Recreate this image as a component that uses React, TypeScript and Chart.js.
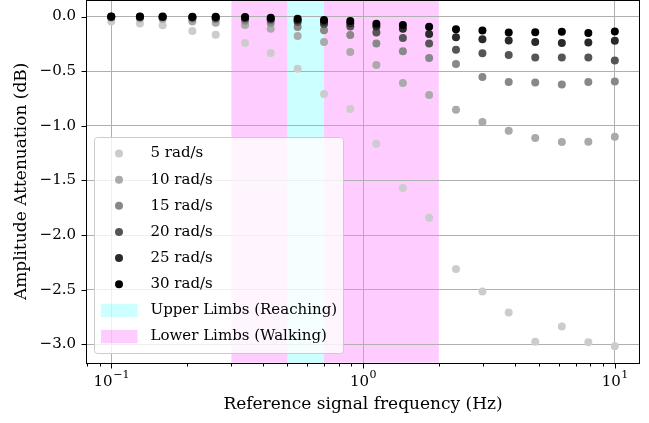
import React, { useEffect, useRef } from 'react';
import { Chart, registerables } from 'chart.js';

Chart.register(...registerables);

// ---- data ----
const FREQS = [0.1, 0.13, 0.16, 0.21, 0.26, 0.34, 0.43, 0.55, 0.7, 0.89, 1.13, 1.44, 1.83, 2.34, 2.98, 3.79, 4.83, 6.16, 7.85, 10];

const SERIES_LABELS = ['5 rad/s', '10 rad/s', '15 rad/s', '20 rad/s', '25 rad/s', '30 rad/s'];
const ATT_5 = [-0.045, -0.065, -0.08, -0.132, -0.166, -0.243, -0.334, -0.478, -0.71, -0.847, -1.164, -1.569, -1.84, -2.309, -2.516, -2.708, -2.976, -2.836, -2.98, -3.016];
const ATT_10 = [-0.012, -0.018, -0.022, -0.045, -0.057, -0.078, -0.113, -0.178, -0.234, -0.324, -0.443, -0.609, -0.719, -0.853, -0.966, -1.045, -1.112, -1.148, -1.145, -1.1];
const ATT_15 = [-0.006, -0.008, -0.01, -0.02, -0.025, -0.038, -0.058, -0.095, -0.125, -0.17, -0.247, -0.318, -0.379, -0.435, -0.554, -0.6, -0.603, -0.621, -0.6, -0.594];
const ATT_20 = [-0.003, -0.004, -0.005, -0.01, -0.013, -0.018, -0.03, -0.05, -0.07, -0.091, -0.146, -0.196, -0.246, -0.304, -0.335, -0.353, -0.374, -0.374, -0.374, -0.402];
const ATT_25 = [-0.002, -0.003, -0.004, -0.007, -0.009, -0.012, -0.02, -0.034, -0.05, -0.064, -0.092, -0.112, -0.161, -0.189, -0.207, -0.219, -0.234, -0.243, -0.237, -0.222];
const ATT_30 = [0.0, -0.001, -0.001, -0.002, -0.003, -0.004, -0.012, -0.021, -0.032, -0.04, -0.066, -0.078, -0.093, -0.116, -0.128, -0.146, -0.143, -0.14, -0.152, -0.137];
const SERIES_VALUES = [ATT_5, ATT_10, ATT_15, ATT_20, ATT_25, ATT_30];
const SERIES_COLORS = ['#cccccc', '#aaaaaa', '#888888', '#555555', '#2a2a2a', '#000000'];

const REACH_BAND = [0.5, 0.7];
const WALK_BAND = [0.3, 2];
const BAND_LABELS = ['Upper Limbs (Reaching)', 'Lower Limbs (Walking)'];
const BAND_COLORS = ['#ccffff', 'rgba(255,0,255,0.2)'];

const Y_TICKS = [0, -0.5, -1, -1.5, -2, -2.5, -3];
const X_MAJOR = [0.1, 1, 10];
const X_EXPONENTS = ['\u22121', '0', '1'];
const X_MINOR = [0.08, 0.09, 0.2, 0.3, 0.4, 0.5, 0.6, 0.7, 0.8, 0.9, 2, 3, 4, 5, 6, 7, 8, 9];
const X_RANGE = [0.0794, 12.59];
const Y_RANGE = [-3.167, 0.151];

const X_TITLE = 'Reference signal frequency (Hz)';
const Y_TITLE = 'Amplitude Attenuation (dB)';

// ---- style ----
const FAMILY = "'DejaVu Serif', serif";
const FONT_SIZE = 15;
const TITLE_SIZE = 17;

const fmtY = (v: number) => (v === 0 ? '0.0' : '\u2212' + Math.abs(v).toFixed(1));

const decor = {
  id: 'decor',
  beforeDraw(chart: any) {
    const { ctx, chartArea: a, scales } = chart;
    const x = scales.x;
    ctx.save();
    const band = (r: number[], color: string) => {
      const x0 = x.getPixelForValue(r[0]);
      const x1 = x.getPixelForValue(r[1]);
      ctx.fillStyle = color;
      ctx.fillRect(x0, a.top, x1 - x0, a.bottom - a.top);
    };
    band(WALK_BAND, BAND_COLORS[1]);
    band(REACH_BAND, BAND_COLORS[0]);
    ctx.restore();
  },
  afterDatasetsDraw(chart: any) {
    const { ctx, chartArea: a, scales } = chart;
    const x = scales.x;
    const y = scales.y;
    ctx.save();
    ctx.strokeStyle = '#000';
    ctx.lineWidth = 1;
    const L = Math.round(a.left) + 0.5;
    const R = Math.round(a.right) - 0.5;
    const T = Math.round(a.top) + 0.5;
    const B = Math.round(a.bottom) + 0.5;
    ctx.strokeRect(L, T, R - L, B - T);
    ctx.beginPath();
    Y_TICKS.forEach((v) => {
      const py = Math.round(y.getPixelForValue(v)) + 0.5;
      ctx.moveTo(L - 5, py);
      ctx.lineTo(L, py);
    });
    X_MAJOR.forEach((v) => {
      const px = Math.round(x.getPixelForValue(v)) + 0.5;
      ctx.moveTo(px, B);
      ctx.lineTo(px, B + 5);
    });
    X_MINOR.forEach((v) => {
      const px = Math.round(x.getPixelForValue(v)) + 0.5;
      ctx.moveTo(px, B);
      ctx.lineTo(px, B + 3);
    });
    ctx.stroke();

    // x tick labels 10^k
    ctx.fillStyle = '#000';
    ctx.textBaseline = 'alphabetic';
    ctx.textAlign = 'left';
    X_MAJOR.forEach((v, i) => {
      const px = x.getPixelForValue(v);
      ctx.font = `${FONT_SIZE}px ${FAMILY}`;
      const wb = ctx.measureText('10').width;
      ctx.font = `${Math.round(FONT_SIZE * 0.72)}px ${FAMILY}`;
      const we = ctx.measureText(X_EXPONENTS[i]).width;
      const x0 = px - (wb + we) / 2;
      ctx.font = `${FONT_SIZE}px ${FAMILY}`;
      ctx.fillText('10', x0, a.bottom + 23.5);
      ctx.font = `${Math.round(FONT_SIZE * 0.72)}px ${FAMILY}`;
      ctx.fillText(X_EXPONENTS[i], x0 + wb + 0.5, a.bottom + 15);
    });
    ctx.restore();
  },
  afterDraw(chart: any) {
    const { ctx } = chart;
    const box = { x: 94.5, y: 137.5, w: 249, h: 216, r: 3 };
    ctx.save();
    ctx.beginPath();
    ctx.moveTo(box.x + box.r, box.y);
    ctx.arcTo(box.x + box.w, box.y, box.x + box.w, box.y + box.h, box.r);
    ctx.arcTo(box.x + box.w, box.y + box.h, box.x, box.y + box.h, box.r);
    ctx.arcTo(box.x, box.y + box.h, box.x, box.y, box.r);
    ctx.arcTo(box.x, box.y, box.x + box.w, box.y, box.r);
    ctx.closePath();
    ctx.fillStyle = 'rgba(255,255,255,0.8)';
    ctx.fill();
    ctx.strokeStyle = '#cccccc';
    ctx.lineWidth = 1;
    ctx.stroke();

    const rowY = (i: number) => 153.5 + 26.15 * i;
    const markerX = 119;
    const textX = 150.5;
    ctx.font = `${FONT_SIZE}px ${FAMILY}`;
    ctx.textBaseline = 'middle';
    ctx.textAlign = 'left';
    const ds = chart.data.datasets;
    ds.forEach((d: any, i: number) => {
      const cy = rowY(i);
      ctx.beginPath();
      ctx.arc(markerX, cy, 4, 0, Math.PI * 2);
      ctx.fillStyle = d.backgroundColor;
      ctx.fill();
      ctx.fillStyle = '#000';
      ctx.fillText(d.label, textX, cy);
    });
    BAND_LABELS.forEach((lab, j) => {
      const cy = rowY(ds.length + j);
      ctx.fillStyle = j === 0 ? 'rgba(0,255,255,0.2)' : BAND_COLORS[1];
      ctx.fillRect(101, cy - 6.7, 36.5, 13.4);
      ctx.fillStyle = '#000';
      ctx.fillText(lab, textX, cy);
    });
    ctx.restore();
  },
};

export default function App() {
  const ref = useRef<HTMLCanvasElement | null>(null);
  useEffect(() => {
    if (!ref.current) return;
    const datasets = SERIES_LABELS.map((label, i) => ({
      type: 'scatter' as const,
      label,
      data: FREQS.map((f, k) => ({ x: f, y: SERIES_VALUES[i][k] })),
      backgroundColor: SERIES_COLORS[i],
      borderColor: SERIES_COLORS[i],
      borderWidth: 0,
      pointRadius: 4,
      pointHoverRadius: 4,
      showLine: false,
      order: SERIES_LABELS.length - i,
    }));
    const font = { family: FAMILY, size: FONT_SIZE };
    const titleFont = { family: FAMILY, size: TITLE_SIZE };
    const chart = new Chart(ref.current, {
      type: 'scatter',
      data: { datasets },
      options: {
        animation: false,
        responsive: false,
        devicePixelRatio: 1,
        layout: { autoPadding: false, padding: { top: 0, right: 9, bottom: 0, left: 0 } },
        plugins: { legend: { display: false }, tooltip: { enabled: false } },
        scales: {
          x: {
            type: 'logarithmic',
            position: 'bottom',
            min: X_RANGE[0],
            max: X_RANGE[1],
            afterBuildTicks: (s: any) => {
              s.ticks = X_MAJOR.map((v) => ({ value: v }));
            },
            afterFit: (s: any) => {
              s.height = 60.3;
              s.paddingLeft = 0;
              s.paddingRight = 0;
              s.paddingTop = 0;
              s.paddingBottom = 0;
            },
            ticks: { display: false },
            grid: { color: '#b0b0b0', lineWidth: 1, drawTicks: false },
            border: { display: false },
            title: { display: true, text: X_TITLE, font: titleFont, color: '#000', padding: { top: 0, bottom: 8 } },
          },
          y: {
            type: 'linear',
            min: Y_RANGE[0],
            max: Y_RANGE[1],
            afterBuildTicks: (s: any) => {
              s.ticks = Y_TICKS.map((v) => ({ value: v }));
            },
            afterFit: (s: any) => {
              s.width = 86;
              s.paddingLeft = 0;
              s.paddingRight = 0;
              s.paddingTop = 0;
              s.paddingBottom = 0;
            },
            ticks: { callback: (v: any) => fmtY(Number(v)), font, color: '#000', padding: 10 },
            grid: { color: '#b0b0b0', lineWidth: 1, drawTicks: false },
            border: { display: false },
            title: { display: true, text: Y_TITLE, font: titleFont, color: '#000', padding: { top: 11, bottom: 0 } },
          },
        },
      } as any,
      plugins: [decor],
    });
    return () => chart.destroy();
  }, []);
  return (
    <div style={{ position: 'fixed', left: 0, top: 0, width: 649, height: 423, background: '#fff' }}>
      <canvas ref={ref} width={649} height={423} style={{ display: 'block', width: 649, height: 423 }} />
    </div>
  );
}
